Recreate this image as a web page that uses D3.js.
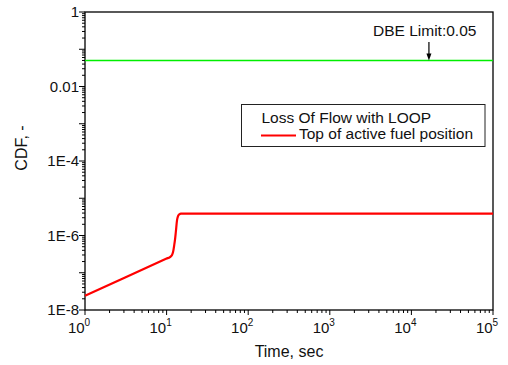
<!DOCTYPE html>
<html><head><meta charset="utf-8">
<script src="https://cdn.jsdelivr.net/npm/d3@7"></script>
<style>body{margin:0;background:#fff}svg{display:block;font-family:"Liberation Sans",Arial,sans-serif}</style>
</head><body><svg id="c" width="508" height="365"></svg>
<script>
const timeValues = [1, 10, 11, 11.6, 12.0, 12.4, 12.7, 13.0, 13.4, 13.8, 14.3, 15, 100000];
const cdfValues = [2.4e-8, 2.4e-7, 2.64e-7, 2.95e-7, 3.6e-7, 5.5e-7, 8e-7, 1.3e-6, 2.5e-6, 3.3e-6, 3.7e-6, 3.85e-6, 3.85e-6];
const limitValue = 0.05;
const limitArrowTime = 16400;
const xTickExponents = [0, 1, 2, 3, 4, 5];
const yTickValues = [1, 0.01, 1e-4, 1e-6, 1e-8];
const yTickLabels = ["1", "0.01", "1E-4", "1E-6", "1E-8"];
const seriesName = "Top of active fuel position";
const legendTitle = "Loss Of Flow with LOOP";
const limitLabel = "DBE Limit:0.05";

const svg = d3.select("#c");
const L = 85, R = 493, T = 12, B = 310;
const x = d3.scaleLog().domain([1, 1e5]).range([L, R]);
const y = d3.scaleLog().domain([1e-8, 1]).range([B, T]);

// minor / decade ticks
const xMinor = [], yMinor = [];
for (let e = 0; e < 5; e++) for (let k = 2; k <= 9; k++) xMinor.push(k * Math.pow(10, e));
for (let e = -8; e < 0; e++) for (let k = 2; k <= 9; k++) yMinor.push(k * Math.pow(10, e));
const yDecades = d3.range(-8, 1).map(e => Math.pow(10, e));

const g = svg.append("g").attr("stroke", "#000").attr("stroke-width", 1);
xMinor.forEach(v => g.append("line").attr("x1", x(v)).attr("x2", x(v)).attr("y1", B).attr("y2", B + 3));
xTickExponents.forEach(e => g.append("line").attr("x1", x(Math.pow(10, e))).attr("x2", x(Math.pow(10, e))).attr("y1", B).attr("y2", B + 5));
yMinor.forEach(v => g.append("line").attr("y1", y(v)).attr("y2", y(v)).attr("x1", L).attr("x2", L - 3));
yDecades.forEach(v => g.append("line").attr("y1", y(v)).attr("y2", y(v)).attr("x1", L).attr("x2", L - 6));

// frame
svg.append("rect").attr("x", L).attr("y", T).attr("width", R - L).attr("height", B - T)
  .attr("fill", "none").attr("stroke", "#000").attr("stroke-width", 1.3);

// tick labels
yTickValues.forEach((v, i) => svg.append("text").attr("x", L - 6).attr("y", y(v)).attr("dy", "0.36em")
  .attr("text-anchor", "end").attr("font-size", 15).attr("fill", "#111").text(yTickLabels[i]));
xTickExponents.forEach(e => {
  const t = svg.append("text").attr("x", x(Math.pow(10, e)) - 6).attr("y", 333)
    .attr("text-anchor", "middle").attr("font-size", 15).attr("fill", "#111");
  t.append("tspan").text("10");
  t.append("tspan").attr("font-size", 10).attr("dy", -7).text(e);
});

// axis titles
svg.append("text").attr("x", (L + R) / 2 - 0).attr("y", 357).attr("text-anchor", "middle")
  .attr("font-size", 16).attr("fill", "#111").text("Time, sec");
svg.append("text").attr("transform", "translate(27,148) rotate(-90)").attr("text-anchor", "middle")
  .attr("font-size", 16).attr("fill", "#111").text("CDF, -");

// limit line
svg.append("line").attr("x1", L).attr("x2", R).attr("y1", y(limitValue)).attr("y2", y(limitValue))
  .attr("stroke", "#00ee00").attr("stroke-width", 1.6);

// series
const line = d3.line().x((d, i) => x(timeValues[i])).y(d => y(d)).curve(d3.curveMonotoneX);
svg.append("path").attr("d", line(cdfValues)).attr("fill", "none").attr("stroke", "#ff0000").attr("stroke-width", 2.2);

// annotation
svg.append("text").attr("x", 373).attr("y", 36).attr("font-size", 15.5).attr("fill", "#111").text(limitLabel);
const ax = x(limitArrowTime);
svg.append("line").attr("x1", ax).attr("x2", ax).attr("y1", 42).attr("y2", y(limitValue) - 5)
  .attr("stroke", "#000").attr("stroke-width", 1.2);
svg.append("path").attr("d", `M${ax - 2.5},${y(limitValue) - 7}L${ax + 2.5},${y(limitValue) - 7}L${ax},${y(limitValue)}Z`).attr("fill", "#000");

// legend
svg.append("rect").attr("x", 241.5).attr("y", 104.5).attr("width", 243.5).attr("height", 42)
  .attr("fill", "#fff").attr("stroke", "#222").attr("stroke-width", 1);
svg.append("text").attr("x", 261.5).attr("y", 122.5).attr("font-size", 15.5).attr("fill", "#111").text(legendTitle);
svg.append("line").attr("x1", 261).attr("x2", 296).attr("y1", 135.5).attr("y2", 135.5).attr("stroke", "#ff0000").attr("stroke-width", 2.2);
svg.append("text").attr("x", 299).attr("y", 138.5).attr("font-size", 15.5).attr("fill", "#111").text(seriesName);
</script></body></html>
